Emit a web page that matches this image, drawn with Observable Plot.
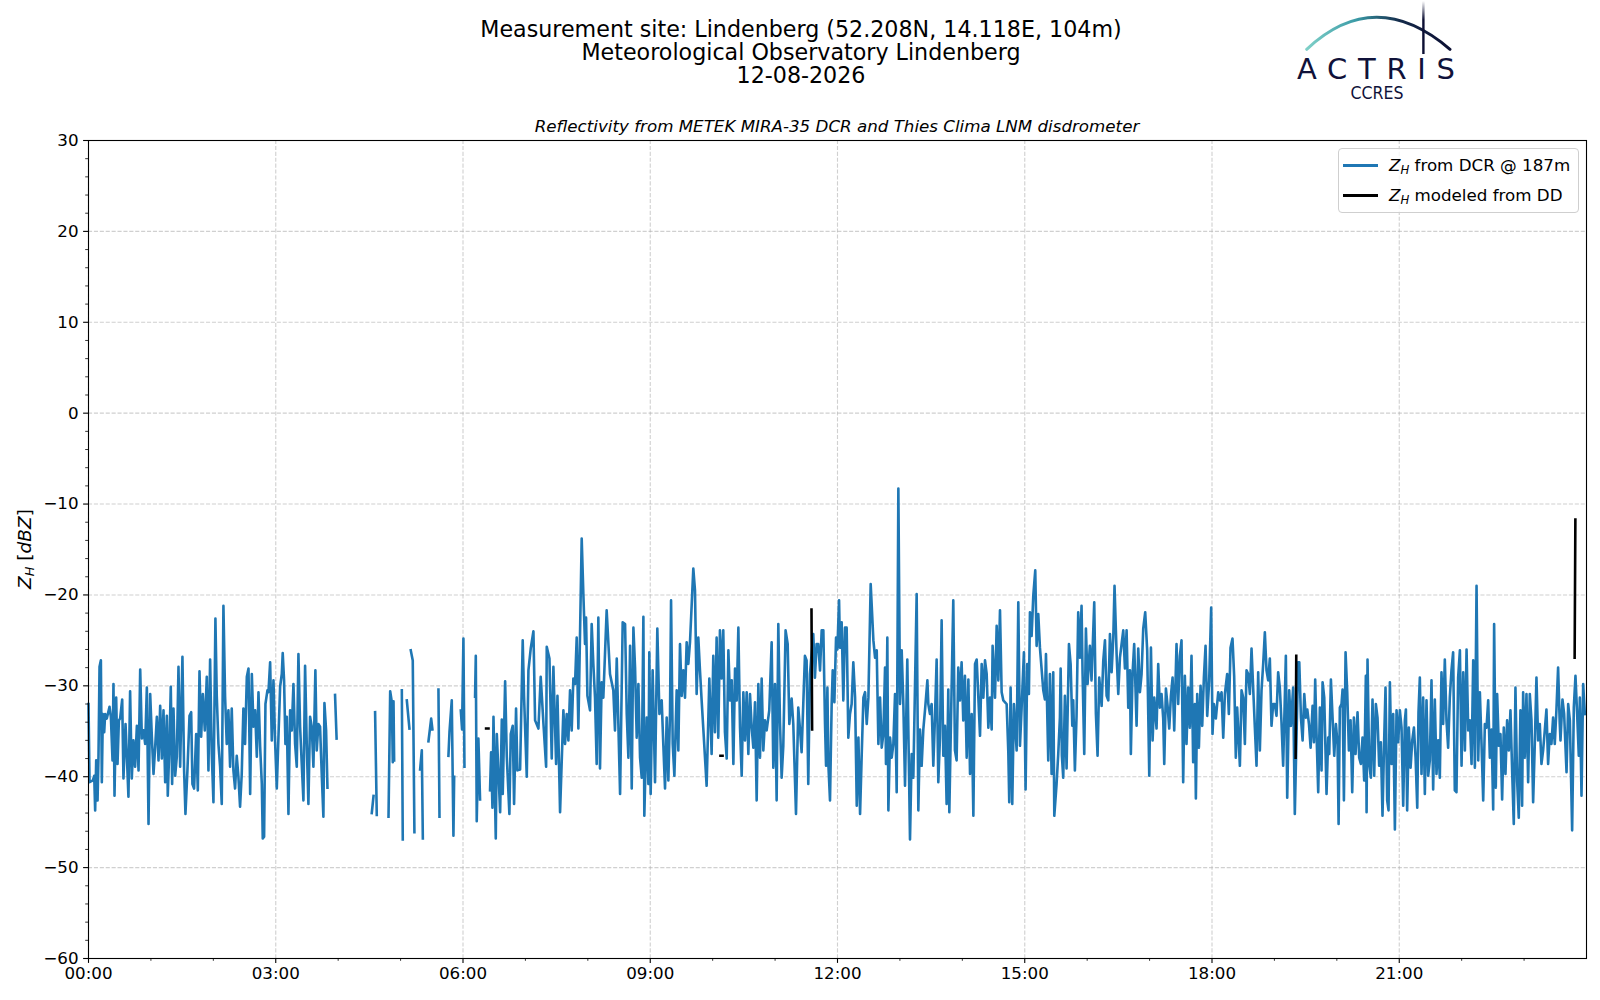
<!DOCTYPE html>
<html>
<head>
<meta charset="utf-8">
<script src="https://cdn.jsdelivr.net/npm/d3@7"></script>
<script src="https://cdn.jsdelivr.net/npm/@observablehq/plot@0.6"></script>
<style>
html,body{margin:0;padding:0;background:#fff;}
#fig{position:relative;width:1600px;height:1000px;overflow:hidden;font-family:"DejaVu Sans",sans-serif;color:#000;}
#fig svg.plot{position:absolute;left:0;top:0;}
.t{position:absolute;white-space:nowrap;transform:translate(-50%,-50%);line-height:1;}
.zi{font-style:italic;}
.zi sub{font-size:70%;vertical-align:-0.25em;line-height:0;}
#legend{position:absolute;left:1338px;top:148px;width:239px;height:63px;border:1px solid #cfcfcf;border-radius:4px;background:rgba(255,255,255,0.8);}
.lrow{position:absolute;left:0;height:24px;width:100%;}
.lline{position:absolute;left:4px;width:35px;height:2.6px;top:11px;}
.ltext{position:absolute;left:50px;top:2px;font-size:16.7px;white-space:nowrap;}
</style>
</head>
<body>
<div id="fig"></div>
<script>
// ---------- tick definitions ----------
const xTicks = [0, 180, 360, 540, 720, 900, 1080, 1260];
const xTickLabels = ["00:00", "03:00", "06:00", "09:00", "12:00", "15:00", "18:00", "21:00"];
const xMinorTicks = [60, 120, 240, 300, 420, 480, 600, 660, 780, 840, 960, 1020, 1140, 1200, 1320, 1380];
const yTicks = [-60, -50, -40, -30, -20, -10, 0, 10, 20, 30];
const yTickLabels = ["\u221260", "\u221250", "\u221240", "\u221230", "\u221220", "\u221210", "0", "10", "20", "30"];
const yMinorTicks = [-58, -56, -54, -52, -48, -46, -44, -42, -38, -36, -34, -32, -28, -26, -24, -22, -18, -16, -14, -12,
  -8, -6, -4, -2, 2, 4, 6, 8, 12, 14, 16, 18, 22, 24, 26, 28];

// ---------- DCR reflectivity @187 m, [minutes since 00:00, dBZ] ----------
const dcrNight = [[0,-32.0],[1.0,-40.6],[4.2,-40.4],[5.5,-39.9],[6.4,-43.7],[7.4,-38.2],[8.7,-42.6],[9.6,-37.8],[10.6,-27.9],[11.9,-27.2],
[12.8,-40.6],[13.8,-33.1],[15.1,-35.1],[16.0,-33.1],[17.6,-33.6],[20.2,-32.3],[21.5,-33.4],[23.1,-38.2],[24.0,-29.8],[25.0,-42.1],
[26.6,-31.3],[27.9,-38.6],[29.2,-33.8],[30.4,-33.6],[32.4,-31.5],[33.6,-40.2],[35.6,-34.2],[36.8,-37.5],[38.4,-42.2],[40.0,-30.6],
[41.6,-40.2],[43.2,-36.0],[44.8,-38.9],[46.5,-34.4],[48.1,-39.3],[49.7,-28.2],[51.3,-35.8],[52.9,-34.9],[54.5,-36.4],[56.1,-30.2],
[57.7,-45.2],[59.3,-30.9],[60.9,-35.6],[62.5,-39.7],[64.1,-36.7],[65.7,-33.4],[67.3,-38.2],[68.9,-32.2],[70.5,-38.0],[72.1,-32.7],
[73.7,-40.6],[75.3,-33.3],[76.2,-42.1],[77.8,-36.4],[79.1,-30.1],[80.4,-40.8],[81.7,-32.5],[83.3,-39.9],[84.9,-37.8],[86.5,-27.9],
[88.1,-38.9],[90.3,-26.8],[91.9,-39.3],[93.2,-44.1],[95.1,-39.3],[97.1,-33.3],[98.7,-32.9],[99.9,-40.8],[101.5,-41.3],[103.5,-35.3],
[105.1,-41.5],[106.7,-28.4],[108.3,-35.6],[109.9,-30.9],[111.8,-34.9],[113.7,-29.0],[115.3,-39.3],[116.9,-27.1],[118.5,-37.5],[120.1,-42.8],
[122.0,-22.6],[123.3,-31.1],[124.9,-36.4],[126.5,-38.9],[128.1,-43.0],[129.7,-21.2],[131.3,-31.2],[132.9,-36.4],[134.5,-32.7],[136.1,-38.9],
[137.7,-32.5],[139.3,-39.3],[140.9,-41.3],[142.5,-37.7],[144.1,-40.0],[145.7,-43.3],[147.3,-39.7],[148.9,-32.5],[150.5,-36.4],[152.2,-29.0],
[153.8,-28.1],[155.4,-41.9],[157.0,-28.7],[158.6,-34.5],[160.2,-32.7],[161.8,-37.8],[163.4,-30.7],[165.0,-36.7],[166.6,-40.8],[167.5,-46.8],
[168.8,-46.6],[170.1,-32.0],[172.0,-30.5],[173.0,-30.7],[174.6,-27.4],[176.2,-36.0],[177.8,-29.4],[179.4,-36.2],[181.0,-41.3],[182.6,-35.6],
[184.2,-30.1],[185.8,-28.7],[186.7,-26.4],[188.0,-29.4],[189.3,-36.4],[190.6,-33.4],[192.2,-44.1],[193.8,-32.7],[195.4,-34.9],[197.0,-29.8],
[198.6,-36.4],[200.2,-38.9],[201.8,-26.5],[203.4,-34.5],[205.0,-38.6],[206.6,-42.6],[208.2,-27.8],[209.8,-36.4],[211.4,-43.0],[213.0,-33.4],
[214.6,-34.5],[216.2,-38.9],[218.1,-28.3],[219.4,-37.1],[221.0,-34.2],[222.6,-34.5],[224.2,-39.7],[225.8,-44.4],[226.8,-31.9],[228.4,-34.9],
[229.7,-41.2]];

const dcrSparse = [
[[237.0,-31.0],[238.5,-35.8]],
[[272.3,-44.0],[274.0,-42.1]],
[[275.5,-32.9],[277.1,-44.2]],
[[288.4,-44.4],[290.0,-30.6],[291.6,-31.8],[292.5,-38.4],[293.2,-31.7],[293.8,-38.2]],
[[301.2,-30.5],[302.1,-46.9]],
[[306.0,-31.6],[308.5,-34.7]],
[[309.8,-26.1],[311.7,-27.2],[313.3,-46.1]],
[[318.8,-39.2],[320.4,-37.1],[321.4,-46.8]],
[[326.8,-36.1],[329.4,-33.6],[330.6,-34.8]],
[[336.4,-30.4],[337.4,-44.4]],
[[346.0,-37.7],[347.0,-35.1],[349.2,-31.6],[350.8,-46.5],[351.5,-40.0]],
[[357.9,-32.7],[359.1,-34.8],[360.4,-24.8],[361.4,-38.9]],
[[371.6,-31.2],[372.3,-26.7],[373.2,-44.9],[374.8,-35.8],[376.4,-42.5]]];

const dcrDay = [[386.0,-41.5],[387.0,-37.3],[388.3,-43.4],[389.3,-33.4],[391.5,-46.8],[392.5,-35.3],[395.7,-43.9],[397.3,-33.7],[398.2,-41.9],[400.5,-29.5],
[402.1,-37.8],[404.6,-44.1],[405.9,-35.3],[407.8,-34.4],[409.1,-43.0],[411.0,-32.5],[412.3,-39.3],[414.9,-39.2],[417.4,-25.0],[418.7,-31.2],
[421.3,-40.0],[422.9,-28.3],[425.1,-25.9],[427.7,-24.0],[429.3,-33.8],[432.5,-34.7],[434.7,-29.0],[437.3,-34.1],[439.9,-38.9],[440.5,-25.7],
[443.1,-27.0],[445.3,-38.0],[446.9,-27.9],[449.5,-38.6],[450.8,-31.1],[452.7,-40.6],
[453.3,-43.9],[456.5,-32.7],[458.1,-36.4],[459.7,-33.1],[461.3,-36.0],[462.9,-30.5],[464.5,-34.9],[466.1,-29.2],[467.7,-29.8],[469.3,-24.7],
[470.9,-34.7],[474.1,-13.8],[475.7,-19.9],[477.3,-25.4],[478.3,-22.5],[479.6,-31.1],[482.1,-32.7],[483.7,-23.2],[485.3,-27.6],[486.9,-31.3],
[488.5,-38.6],[490.1,-22.5],[491.7,-39.1],[493.3,-29.6],[494.9,-31.3],[498.1,-21.7],[501.3,-28.7],[504.5,-30.5],[506.1,-34.9],[507.8,-27.0],
[511.0,-41.9],[513.5,-23.0],[515.8,-23.2],[517.4,-33.1],[519.0,-37.9],[520.6,-25.6],[522.2,-41.3],[523.8,-23.6],[525.4,-28.0],[527.0,-35.7],
[528.6,-29.8],[530.2,-37.9],[531.8,-40.1],[533.4,-22.4],[534.3,-44.3],[536.6,-33.5],[538.2,-40.8],[539.1,-26.3],[540.4,-41.9],[542.3,-28.3],
[544.6,-40.6],[546.8,-23.7],[548.8,-33.1],[551.0,-31.6],[552.6,-36.6],[554.2,-41.3],[555.8,-33.5],[557.4,-40.4],[559.0,-32.9],[560.0,-20.6],
[561.6,-36.4],[563.2,-39.9],[565.4,-30.5],[567.0,-37.1],[568.6,-25.4],[570.2,-31.1],[571.8,-28.3],[573.4,-31.3],[575.0,-25.2],[576.6,-27.6],
[578.2,-25.2],[581.4,-17.1],[583.0,-19.5],[584.6,-30.9],[586.2,-24.7],[587.8,-28.3],[589.4,-31.6],[591.0,-34.7],[594.2,-41.0],[596.8,-29.2],
[599.0,-37.5],[600.6,-26.7],[602.2,-35.1],[603.8,-24.7],[605.4,-35.7],[607.0,-23.9],[608.6,-29.2],[610.2,-23.9],[611.8,-35.1],[613.5,-38.0],
[615.1,-26.1],[616.7,-31.6],[618.3,-29.4],[619.9,-38.6],[621.5,-28.1],[623.1,-31.6],[624.7,-23.6],[626.3,-34.6],[627.9,-39.9],[629.5,-30.7],
[631.1,-36.0],[632.7,-30.7],[634.3,-37.5],[635.9,-30.9],[637.5,-34.6],[639.1,-36.8],[640.7,-31.8],[642.3,-42.6],[643.9,-29.8],[645.5,-37.9],
[647.1,-29.2],[648.7,-37.1],[650.3,-33.8],[651.9,-34.9],[654.4,-32.7],[656.7,-25.2],[658.3,-39.0],[659.9,-29.8],[661.5,-42.6],[663.1,-23.2],
[664.7,-34.0],[666.3,-40.1],[667.9,-36.6],[670.1,-23.9],[672.1,-25.4],[673.7,-34.2],[675.9,-31.4],[677.5,-34.2],[680.1,-44.1],[682.3,-32.4],
[683.9,-34.7],[685.5,-37.3],[687.1,-32.0],[688.7,-26.7],[690.3,-27.2],[691.9,-40.8],[693.5,-28.7],[696.7,-24.3],[698.3,-29.1],[699.9,-25.4],
[701.5,-25.4],[703.2,-28.3],[704.8,-23.9],[706.4,-23.9],[708.0,-34.2],[709.0,-38.8],[710.3,-30.2],[711.2,-38.6],[712.8,-42.6],[714.4,-32.0],
[715.4,-28.3],[717.0,-31.8],[718.6,-24.7],[719.9,-26.0],[721.5,-20.6],[722.4,-25.8],[724.0,-23.0],[725.6,-31.6],[727.2,-23.6],[728.8,-23.6],
[730.4,-35.7],[732.0,-33.1],[733.6,-32.0],[735.2,-27.4],[736.9,-31.3],[738.5,-43.2],[740.1,-35.7],[741.7,-44.1],[743.3,-37.5],[744.9,-31.3],
[746.5,-30.7],[748.1,-34.2],[749.7,-31.3],[751.9,-18.8],[754.5,-25.0],[756.1,-26.9],[757.7,-26.1],[759.3,-36.4],[760.9,-31.3],[762.5,-36.8],
[764.1,-35.3],[765.7,-28.0],[766.6,-38.6],[767.9,-24.7],[768.9,-43.7],[770.5,-35.7],[772.1,-37.9],[773.7,-36.4],[775.3,-30.9],[776.9,-41.7],
[778.5,-8.3],[780.1,-32.0],[781.7,-26.1],[783.3,-32.0],[784.9,-41.0],[787.1,-27.1],[789.7,-46.9],[791.3,-37.5],[792.9,-40.1],[796.1,-19.9],
[797.7,-43.7],[799.3,-34.8],[800.9,-38.8],[802.5,-34.8],[804.1,-32.7],[806.4,-29.4],[807.3,-32.0],[808.9,-33.1],[810.5,-32.0],[812.1,-38.8],
[813.7,-33.5],[815.3,-27.1],[816.9,-40.6],[818.5,-35.7],[820.1,-22.8],[821.7,-37.7],[823.3,-34.4],[824.9,-43.0],[826.5,-30.4],[827.5,-43.9],
[828.8,-35.7],[831.3,-20.6],[832.9,-37.1],[834.5,-38.2],[836.1,-28.0],[837.7,-31.6],[839.3,-27.4],[840.9,-33.8],[842.5,-28.9],[844.2,-37.9],
[845.8,-29.3],[847.4,-39.7],[849.0,-33.1],[850.6,-44.3],[852.2,-27.6],[853.8,-27.1],[855.4,-31.3],[857.0,-35.5],[858.6,-27.6],[860.2,-31.3],
[861.8,-27.2],[863.4,-28.7],[865.0,-34.6],[866.6,-31.3],[868.2,-34.8],[869.1,-25.6],[871.4,-31.3],[873.0,-23.4],[874.6,-29.4],[876.2,-21.7],
[877.8,-30.7],[879.4,-31.6],[882.6,-32.0],[884.2,-37.3],[885.1,-42.8],[886.4,-30.2],[888.0,-43.0],[889.6,-32.0],[892.2,-37.1],[893.8,-20.8],
[895.4,-36.6],[897.0,-32.4],[899.2,-26.3],[900.8,-41.4],[902.4,-27.6],[904.0,-30.9],[905.0,-21.9],[906.6,-24.5],[908.2,-20.1],[910.1,-17.3],
[911.4,-25.6],[913.0,-22.1],[914.6,-25.8],[917.8,-30.5],[919.4,-31.5],[920.4,-26.5],[922.6,-38.2],[924.2,-28.7],[925.8,-39.7],[927.4,-28.5],
[928.4,-44.3],[930.6,-40.8],[932.2,-37.5],[933.8,-33.5],
[934.5,-28.1],[935.7,-37.7],[937.0,-40.1],[938.6,-31.1],[940.2,-39.1],[942.5,-25.4],[944.1,-27.6],[945.7,-34.4],[946.6,-31.6],[948.2,-39.3],
[949.8,-33.3],[951.4,-21.9],[953.0,-26.9],[954.6,-21.2],[955.6,-28.7],[957.2,-37.5],[958.8,-23.7],[960.4,-29.8],[962.6,-25.6],[964.2,-29.4],
[966.8,-20.8],[968.4,-33.1],[970.0,-37.7],[971.6,-29.1],[973.9,-32.2],[975.5,-27.2],[977.1,-25.0],[978.7,-31.1],[980.3,-31.6],[981.9,-24.3],
[983.5,-28.5],[985.1,-24.7],[986.3,-19.0],[988.3,-26.5],[989.9,-30.9],[991.5,-26.9],[993.1,-25.4],[994.7,-23.9],[996.3,-28.1],[997.9,-23.9],
[999.5,-32.4],[1001.1,-28.3],[1002.0,-37.5],[1003.6,-28.7],[1005.2,-25.4],[1007.5,-34.4],[1009.1,-25.9],[1010.7,-30.7],[1012.3,-28.7],[1013.9,-23.7],
[1015.8,-21.9],[1017.7,-26.1],[1019.7,-39.9],[1021.3,-25.8],[1022.9,-36.0],[1024.5,-31.3],[1026.7,-34.7],[1028.3,-27.6],[1029.9,-32.4],[1031.5,-30.9],
[1033.1,-33.6],[1034.1,-38.6],[1035.7,-30.3],[1037.3,-32.2],[1038.9,-34.7],[1040.5,-31.1],[1042.1,-29.1],[1043.7,-34.9],[1045.9,-25.4],[1047.5,-32.0],
[1049.1,-26.7],[1050.7,-25.0],[1052.3,-40.6],[1053.9,-28.9],[1055.5,-36.4],[1057.1,-30.2],[1058.7,-34.6],[1060.3,-26.7],[1061.9,-38.4],[1063.5,-32.0],
[1064.5,-42.4],[1065.8,-30.9],[1067.4,-36.8],[1069.0,-30.0],[1070.6,-34.4],[1072.2,-29.1],[1073.8,-25.6],[1075.4,-33.3],[1077.3,-29.4],[1079.2,-21.4],
[1080.5,-35.3],[1081.8,-32.0],[1083.7,-33.6],[1086.0,-30.7],[1087.6,-31.6],[1089.2,-30.7],[1090.8,-35.7],[1092.4,-30.9],[1094.6,-28.7],[1096.2,-33.1],
[1097.8,-25.8],[1099.7,-24.8],[1101.3,-28.9],[1102.9,-37.9],[1104.2,-32.4],[1106.8,-38.8],[1108.4,-30.5],[1110.0,-31.3],[1111.6,-36.4],[1113.2,-28.3],
[1114.8,-28.7],[1116.4,-30.9],[1118.0,-25.9],[1119.6,-30.3],[1121.2,-34.6],[1122.8,-38.8],[1124.4,-28.5],[1126.0,-37.1],[1127.6,-30.5],[1129.2,-27.6],
[1130.8,-24.1],[1132.4,-28.3],[1134.0,-29.4],[1135.6,-27.0],[1137.2,-34.4],[1138.8,-32.0],[1140.4,-32.0],[1142.0,-33.3],[1143.6,-28.5],[1145.2,-30.2],
[1146.8,-34.0],[1148.4,-38.8],[1151.0,-26.7],[1152.3,-42.3],[1154.2,-30.5],[1155.8,-34.4],[1158.0,-30.2],[1159.6,-44.1],[1162.8,-27.4],
[1163.9,-27.4],[1165.5,-33.5],[1167.1,-36.0],[1168.7,-30.9],[1170.3,-33.5],[1171.6,-32.6],[1173.2,-34.2],[1174.8,-36.8],[1176.7,-32.2],[1178.0,-36.2],
[1179.2,-29.3],[1180.5,-35.3],[1182.1,-41.7],[1183.7,-32.4],[1185.3,-39.3],[1186.3,-29.6],[1187.9,-31.3],[1190.1,-41.9],[1191.7,-35.7],[1192.7,-37.5],
[1194.3,-29.3],[1195.9,-33.5],[1197.5,-37.7],[1199.1,-34.2],[1200.7,-36.4],[1201.7,-45.2],[1202.9,-32.4],[1204.5,-32.0],[1205.5,-30.4],[1206.8,-42.6],
[1208.4,-26.3],[1210.0,-30.7],[1211.6,-37.1],[1213.2,-33.8],[1214.8,-41.7],[1216.4,-33.5],[1218.0,-37.5],[1219.9,-32.9],[1221.5,-37.9],[1223.1,-38.6],
[1224.7,-35.7],[1226.3,-40.4],[1227.9,-28.9],[1228.6,-43.9],[1229.5,-27.1],[1231.1,-38.6],[1232.7,-40.1],[1234.3,-31.5],[1235.9,-39.9],[1237.5,-32.0],
[1239.1,-33.5],[1240.7,-38.8],[1242.3,-36.2],[1243.9,-44.3],[1245.5,-36.0],[1246.8,-30.2],[1248.4,-42.6],[1249.7,-43.7],[1251.0,-29.6],[1252.6,-38.6],
[1254.2,-33.1],[1255.8,-45.8],[1257.4,-32.7],[1259.0,-36.2],[1260.6,-32.7],[1262.2,-34.6],[1263.8,-43.2],[1265.4,-33.8],[1266.4,-32.6],[1267.6,-43.7],
[1269.2,-34.6],[1270.9,-39.0],[1272.5,-36.0],[1274.1,-34.6],[1275.7,-37.9],[1277.3,-43.4],[1278.5,-32.9],[1279.8,-29.1],[1281.4,-39.7],[1283.0,-31.3],
[1284.6,-41.9],[1286.2,-31.6],[1287.8,-39.9],[1289.4,-38.2],[1291.0,-29.4],[1292.6,-41.4],[1294.2,-31.5],[1295.8,-39.7],[1297.4,-36.0],[1299.0,-40.1],
[1300.6,-28.5],[1302.2,-34.2],[1303.8,-27.1],[1305.4,-33.8],[1307.0,-36.8],[1308.6,-31.3],[1310.2,-28.3],[1311.8,-26.3],[1313.4,-41.5],[1315.0,-41.7],
[1316.6,-29.1],[1318.3,-26.1],[1319.9,-38.8],[1321.5,-28.5],[1323.1,-37.1],[1324.7,-26.0],[1326.3,-34.9],[1327.9,-33.8],[1329.5,-38.6],[1331.1,-27.2],
[1332.7,-39.0],[1334.3,-19.0],[1335.9,-38.2],[1337.5,-30.7],[1339.1,-36.4],[1340.7,-42.6],[1342.3,-34.2],[1343.9,-34.6],[1345.5,-31.6],[1347.1,-37.9],
[1348.7,-34.8],[1350.3,-43.6],[1351.2,-23.2],[1352.8,-41.2],[1354.1,-30.9],[1355.7,-36.6],[1357.3,-35.3],[1358.9,-42.5],[1360.5,-34.6],[1362.1,-39.7],
[1363.7,-33.8],[1365.3,-37.1],[1366.9,-32.7],[1368.5,-39.3],[1370.1,-45.2],[1371.7,-30.2],[1373.3,-40.4],[1374.9,-44.5],[1376.5,-32.7],[1378.1,-43.2],
[1379.1,-30.7],[1380.7,-37.9],[1382.3,-30.9],[1383.9,-40.6],[1385.5,-30.9],[1387.1,-33.8],[1388.7,-42.8],[1390.3,-36.4],[1391.9,-29.1],[1393.5,-36.0],
[1395.1,-34.2],[1396.7,-38.6],[1398.3,-37.1],[1399.9,-34.9],[1401.5,-32.6],[1403.1,-38.6],[1404.7,-35.3],[1406.3,-36.4],[1407.9,-33.5],[1409.5,-36.4],
[1411.1,-32.6],[1412.7,-28.0],[1414.3,-34.2],[1415.0,-36.0],[1416.9,-31.5],[1418.5,-33.1],[1420.8,-39.5],[1422.4,-32.0],[1424.0,-33.8],[1426.2,-45.9],
[1427.8,-32.4],[1429.4,-28.9],[1431.0,-33.1],[1432.6,-37.7],[1433.6,-31.3],[1435.2,-42.1],[1436.8,-29.8],[1438.4,-33.1]];

// ---------- reflectivity modeled from disdrometer (DD) ----------
const ddSegments = [
[[382.2,-34.7],[384.5,-34.7]],
[[607.5,-37.7],[609.5,-37.7]],
[[695.0,-21.6],[695.6,-34.8]],
[[1160.4,-37.9],[1161.0,-26.7]],
[[1428.6,-26.9],[1429.3,-11.7]]];

// ---------- build rows (NaN row = break in the line) ----------
function rowsFrom(segments) {
  const out = [];
  segments.forEach((seg, i) => {
    if (i > 0) out.push({t: NaN, dbz: NaN});
    seg.forEach(([t, v]) => out.push({t, dbz: v}));
  });
  return out;
}
const dcrRows = rowsFrom([dcrNight, ...dcrSparse, dcrDay]);
const ddRows = rowsFrom(ddSegments);

const gridStyle = {stroke: "#b0b0b0", strokeOpacity: 0.6, strokeWidth: 1.1, strokeDasharray: "4.1,1.8"};

const svg = Plot.plot({
  width: 1600, height: 1000,
  marginTop: 140, marginRight: 14, marginBottom: 42, marginLeft: 88,
  style: {fontFamily: '"DejaVu Sans", sans-serif', fontSize: "16.7px", color: "#000", background: "none"},
  x: {domain: [0, 1440], label: null},
  y: {domain: [-60, 30], label: null},
  marks: [
    Plot.gridX(xTicks, gridStyle),
    Plot.gridY(yTicks, gridStyle),
    Plot.line(dcrRows, {x: "t", y: "dbz", stroke: "#1f77b4", strokeWidth: 2.6, strokeLinejoin: "round", strokeLinecap: "square"}),
    Plot.line(ddRows, {x: "t", y: "dbz", stroke: "#000", strokeWidth: 2.6, strokeLinecap: "square"}),
    Plot.frame({stroke: "#000", strokeWidth: 1.1}),
    Plot.axisX(xMinorTicks, {tickSize: 2.8, tickFormat: () => "", label: null, strokeWidth: 0.8}),
    Plot.axisX(xTicks, {tickSize: 4.9, tickPadding: 4, tickFormat: d => xTickLabels[xTicks.indexOf(d)], label: null, fontSize: 16.7, strokeWidth: 1.1}),
    Plot.axisY(yMinorTicks, {tickSize: 2.8, tickFormat: () => "", label: null, strokeWidth: 0.8}),
    Plot.axisY(yTicks, {tickSize: 4.9, tickPadding: 5, tickFormat: d => yTickLabels[yTicks.indexOf(d)], label: null, fontSize: 16.7, strokeWidth: 1.1})
  ]
});
const fig = document.getElementById("fig");
fig.appendChild(svg);

// ---------- texts ----------
function addText(html, x, y, css) {
  const d = document.createElement("div");
  d.className = "t";
  d.innerHTML = html;
  d.style.left = x + "px";
  d.style.top = y + "px";
  Object.assign(d.style, css || {});
  fig.appendChild(d);
  return d;
}
const titleLines = ["Measurement site: Lindenberg (52.208N, 14.118E, 104m)", "Meteorological Observatory Lindenberg", "12-08-2026"];
addText(titleLines[0], 801, 29, {fontSize: "22.2px"});
addText(titleLines[1], 801, 52, {fontSize: "22.2px"});
addText(titleLines[2], 801, 75, {fontSize: "22.2px"});
addText("Reflectivity from METEK MIRA-35 DCR and Thies Clima LNM disdrometer", 837, 126, {fontSize: "16.7px", fontStyle: "italic"});
const yl = addText('<span class="zi">Z<sub>H</sub></span> [<span class="zi">dBZ</span>]', 25, 549, {fontSize: "18.5px"});
yl.style.transform = "translate(-50%,-50%) rotate(-90deg)";

// ---------- legend ----------
const legendItems = [
  {color: "#1f77b4", label: '<span class="zi">Z<sub>H</sub></span> from DCR @ 187m'},
  {color: "#000000", label: '<span class="zi">Z<sub>H</sub></span> modeled from DD'}
];
const lg = document.createElement("div");
lg.id = "legend";
legendItems.forEach((it, i) => {
  const r = document.createElement("div");
  r.className = "lrow";
  r.style.top = (4 + i * 30) + "px";
  r.innerHTML = `<div class="lline" style="background:${it.color}"></div><div class="ltext">${it.label}</div>`;
  lg.appendChild(r);
});
fig.appendChild(lg);

// ---------- logo ----------
const logo = document.createElementNS("http://www.w3.org/2000/svg", "svg");
logo.setAttribute("width", "200");
logo.setAttribute("height", "110");
logo.style.position = "absolute";
logo.style.left = "1280px";
logo.style.top = "0px";
logo.innerHTML = `
<defs>
 <linearGradient id="arcg" x1="0" x2="1" y1="0" y2="0">
  <stop offset="0" stop-color="#7fd0c8"/>
  <stop offset="0.35" stop-color="#3a9aa6"/>
  <stop offset="0.65" stop-color="#142a4a"/>
  <stop offset="1" stop-color="#0c0f33"/>
 </linearGradient>
 <linearGradient id="vg" x1="0" x2="0" y1="0" y2="1">
  <stop offset="0" stop-color="#0c0f33" stop-opacity="0"/>
  <stop offset="0.35" stop-color="#0c0f33" stop-opacity="1"/>
  <stop offset="1" stop-color="#0c0f33"/>
 </linearGradient>
</defs>
<path d="M26.7,49.3 Q95,-14.7 170,49.3" fill="none" stroke="url(#arcg)" stroke-width="3" stroke-linecap="round"/>
<rect x="142.2" y="1" width="2.4" height="53" fill="url(#vg)"/>
<text x="17" y="78.5" font-family="DejaVu Sans" font-size="29" fill="#10123a" textLength="158" lengthAdjust="spacing">ACTRIS</text>
<text x="97" y="99" font-family="DejaVu Sans" font-size="17" fill="#10123a" text-anchor="middle" textLength="53" lengthAdjust="spacingAndGlyphs">CCRES</text>`;
fig.appendChild(logo);
</script>
</body>
</html>
